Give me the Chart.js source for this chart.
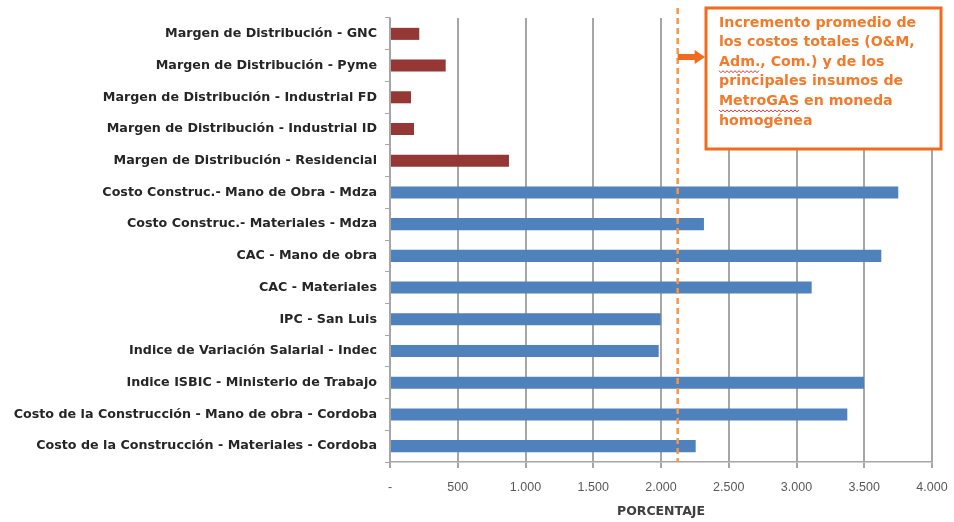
<!DOCTYPE html>
<html>
<head>
<meta charset="utf-8">
<script src="https://cdn.jsdelivr.net/npm/chart.js@4/dist/chart.umd.min.js"></script>
<style>
html,body{margin:0;padding:0;background:#fff;}
#wrap{width:954px;height:522px;position:relative;}
</style>
</head>
<body>
<div id="wrap"><canvas id="c" width="954" height="522"></canvas></div>
<script>
const categories = [
  'Margen de Distribución - GNC',
  'Margen de Distribución - Pyme',
  'Margen de Distribución - Industrial FD',
  'Margen de Distribución - Industrial ID',
  'Margen de Distribución - Residencial',
  'Costo Construc.- Mano de Obra - Mdza',
  'Costo Construc.- Materiales - Mdza',
  'CAC - Mano de obra',
  'CAC - Materiales',
  'IPC - San Luis',
  'Indice de Variación Salarial - Indec',
  'Indice ISBIC - Ministerio de Trabajo',
  'Costo de la Construcción - Mano de obra - Cordoba',
  'Costo de la Construcción - Materiales - Cordoba'
];
const values = [216, 411, 155, 177, 878, 3751, 2317, 3626, 3112, 1998, 1983, 3498, 3375, 2256];
const marginCount = 5; // first categories are "Margen de Distribución"
const averageIncrease = 2123;
const xTicks = [0, 500, 1000, 1500, 2000, 2500, 3000, 3500, 4000];
const axisTitle = 'PORCENTAJE';
const noteLines = [
  'Incremento promedio de',
  'los costos totales (O&M,',
  'Adm., Com.) y de los',
  'principales insumos de',
  'MetroGAS en moneda',
  'homogénea'
];

const MAROON = '#953735';
const BLUE = '#4F81BD';
const ORANGE = '#F26B1D';
const FONT = '"DejaVu Sans", "Open Sans", sans-serif';

function fmt(v){
  if (v === 0) return '-';
  return String(v).replace(/\B(?=(\d{3})+(?!\d))/g, '.');
}

const overlay = {
  id: 'overlay',
  afterDatasetsDraw(chart){
    const ctx = chart.ctx;
    const x = chart.scales.x.getPixelForValue(averageIncrease);
    const area = chart.chartArea;
    ctx.save();
    // dashed average line
    ctx.strokeStyle = '#F79646';
    ctx.lineWidth = 2.5;
    ctx.setLineDash([6, 4]);
    ctx.beginPath();
    ctx.moveTo(x, 8);
    ctx.lineTo(x, area.bottom);
    ctx.stroke();
    ctx.setLineDash([]);
    // note box
    const bx = 706, by = 8, bw = 235, bh = 141;
    ctx.fillStyle = '#fff';
    ctx.fillRect(bx, by, bw, bh);
    ctx.strokeStyle = ORANGE;
    ctx.lineWidth = 3;
    ctx.strokeRect(bx, by, bw, bh);
    // arrow
    const ay = 57;
    ctx.fillStyle = ORANGE;
    ctx.fillRect(x, ay - 3, 18, 6);
    ctx.beginPath();
    ctx.moveTo(x + 17, ay - 7);
    ctx.lineTo(bx - 1, ay);
    ctx.lineTo(x + 17, ay + 7);
    ctx.closePath();
    ctx.fill();
    // text
    ctx.fillStyle = '#F47A2A';
    ctx.font = 'bold 14.2px ' + FONT;
    ctx.textBaseline = 'middle';
    ctx.textAlign = 'left';
    const tx = 719;
    noteLines.forEach((ln, i) => {
      ctx.fillText(ln, tx, 23 + i * 19.6);
    });
    // spell-check squiggles under "Adm." and "MetroGAS"
    function squiggle(x0, x1, y){
      ctx.strokeStyle = '#E0303A';
      ctx.lineWidth = 1;
      ctx.beginPath();
      for (let px = x0, k = 0; px <= x1; px += 2, k++) {
        const py = y + (k % 2 ? 1.5 : -0.5);
        if (k === 0) ctx.moveTo(px, py); else ctx.lineTo(px, py);
      }
      ctx.stroke();
    }
    const w1 = ctx.measureText('Adm.').width;
    squiggle(tx, tx + w1, 23 + 2 * 19.6 + 9);
    const w2 = ctx.measureText('MetroGAS').width;
    squiggle(tx, tx + w2, 23 + 4 * 19.6 + 9);
    ctx.restore();
  }
};

new Chart(document.getElementById('c'), {
  type: 'bar',
  data: {
    labels: categories,
    datasets: [{
      data: values,
      backgroundColor: (c) => c.dataIndex < marginCount ? MAROON : BLUE,
      categoryPercentage: 1,
      barPercentage: 0.38
    }]
  },
  options: {
    indexAxis: 'y',
    responsive: false,
    animation: false,
    layout: { padding: { top: 18, right: 22, left: 0, bottom: 0 } },
    plugins: { legend: { display: false }, tooltip: { enabled: false } },
    scales: {
      x: {
        min: 0, max: 4000,
        afterBuildTicks(s){ s.ticks = xTicks.map(v => ({ value: v })); },
        afterFit(s){ s.height = 60; s.paddingLeft = 0; s.paddingRight = 0; },
        grid: { color: '#A6A6A6', lineWidth: 2, tickLength: 6, drawTicks: true },
        border: { color: '#A6A6A6', width: 1.5 },
        ticks: {
          callback: (v) => fmt(v),
          color: '#595959',
          font: { family: '"Liberation Sans", Arial, sans-serif', size: 12.5 },
          padding: 12, maxRotation: 0
        },
        title: {
          display: true, text: axisTitle, color: '#404040',
          font: { family: FONT, size: 12.5, weight: 'bold' },
          padding: { top: 2, bottom: 3 }
        }
      },
      y: {
        afterFit(s){ s.width = 390; s.paddingTop = 0; s.paddingBottom = 0; },
        grid: { drawOnChartArea: false, color: '#A6A6A6', tickLength: 5, offset: true },
        border: { color: '#A6A6A6', width: 1.5 },
        ticks: {
          color: '#262626',
          font: { family: FONT, size: 12.7, weight: 'bold' },
          padding: 8, autoSkip: false
        }
      }
    }
  },
  plugins: [overlay]
});
</script>
</body>
</html>
